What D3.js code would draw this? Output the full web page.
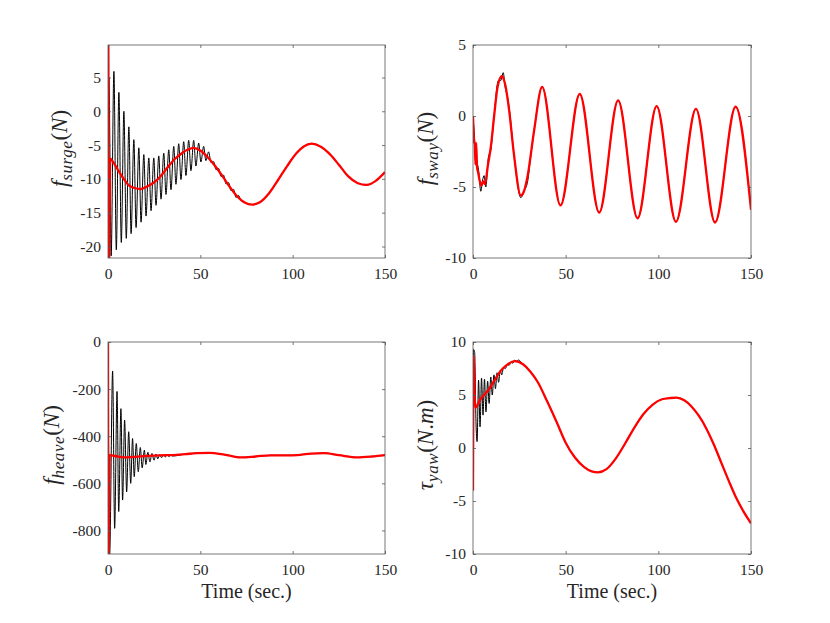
<!DOCTYPE html>
<html><head><meta charset="utf-8">
<script src="https://cdn.jsdelivr.net/npm/d3@7"></script>
<style>body{margin:0;background:#fff}</style>
</head><body><svg id="c" width="830" height="623"></svg>
<script>
// ---------- data (time in sec) ----------
const timeTicks = [0, 50, 100, 150];
const surgeTicks = [-20, -15, -10, -5, 0, 5];
const swayTicks = [-10, -5, 0, 5];
const heaveTicks = [-800, -600, -400, -200, 0];
const yawTicks = [-10, -5, 0, 5, 10];

const surgeRed = [[0,0],[0.15,12],[0.5,-24],[1.2,-7.0],[3,-7.6],[5,-8.5],[8.5,-10.0],[12,-11.1],[17.5,-11.5],[22,-11.0],[25,-10.5],[28.5,-9.6],[32,-8.4],[36,-7.1],[40,-6.2],[43,-5.7],[46.3,-5.4],[50,-5.8],[54,-6.8],[58,-8.1],[62,-9.6],[66,-11.2],[70,-12.6],[74,-13.5],[78,-13.8],[82,-13.5],[87,-12.2],[92,-10.2],[97,-8.1],[102,-6.2],[106,-5.2],[110.3,-4.8],[115,-5.2],[120,-6.3],[125,-7.9],[130,-9.6],[135,-10.6],[140,-10.9],[145,-10.3],[150,-9.0]];
const surgeBlack = [[0,0],[0.5,5],[1.7,-21.4],[3.2,5.9],[4.5,-20.5],[5.9,2.8],[7.2,-19.4],[8.6,0.0],[9.9,-18.8],[11.3,-2.3],[12.5,-18.1],[14.0,-4.2],[15.2,-17.2],[16.7,-5.4],[17.9,-16.4],[19.4,-6.4],[20.6,-15.5],[22.1,-6.9],[23.3,-14.7],[24.8,-6.9],[26.0,-13.9],[27.5,-6.6],[28.7,-13.0],[30.2,-6.2],[31.4,-12.3],[32.9,-5.7],[34.1,-11.6],[35.6,-5.2],[36.8,-10.8],[38.3,-4.8],[39.5,-10.1],[41.0,-4.5],[42.2,-9.5],[43.7,-4.3],[44.9,-8.8],[46.4,-4.3],[47.6,-8.1],[49.1,-4.7],[50.3,-7.5],[51.8,-5.2],[53.0,-7.3],[54.5,-6.0],[55.8,-7.6],[57.2,-7.45],[58.5,-8.65],[59.9,-8.45],[61.2,-9.65],[62.6,-9.45],[63.9,-10.75],[65.3,-10.55],[66.6,-11.75],[68,-11.55],[69.3,-12.75],[70.7,-12.45],[72,-13.2]];

const swayRed = [[0,0],[0.6,-1.8],[1.0,-2.0],[1.3,-3.4],[1.7,-1.9],[2.2,-3.6],[2.8,-4.0],[3.5,-4.5],[4.5,-4.9],[5.5,-4.6],[6.5,-4.8],[8,-3.5],[9.6,-2.2],[11.4,0],[13.2,2.0],[15.5,2.8],[17.4,2.2],[19.6,0.3],[22,-2.6],[25.8,-5.6],[27.5,-5.3],[29.5,-4.2],[33,-1.0],[37.3,2.05],[47.2,-6.3],[57.6,1.55],[68.1,-6.8],[78.3,1.1],[88.8,-7.2],[99.1,0.7],[109.5,-7.45],[120.3,0.5],[130.6,-7.5],[141.7,0.65],[150,-6.6]];
const swayBlack = [[0,0],[0.8,-1.5],[1.5,-3.0],[2.2,-3.3],[3,-3.8],[4.2,-5.3],[5.2,-4.5],[6,-4.2],[6.9,-5.0],[8.3,-2.9],[9.6,-2.4],[11.4,0],[13.2,2.3],[14.1,2.55],[15,2.5],[16.3,3.05],[17.4,2.0],[18.7,1.3],[19.6,0.5],[22,-2.6],[25.8,-5.75],[27.5,-5.3],[29.5,-4.6],[31,-3.0]];

const heaveRed = [[0,0],[0.3,-950],[0.9,-480],[3,-483],[6,-487],[10,-490],[15,-488],[20,-484],[28,-481],[35,-480],[42,-476],[48,-472],[55,-471],[63,-478],[72,-490],[80,-486],[88,-481],[100,-481],[110,-474],[117,-472],[125,-480],[135,-490],[143,-486],[150,-480]];
const heaveBlack = [[0,0],[0.9,-900],[2.5,-123],[3.6,-791],[4.9,-210],[5.8,-720],[7.0,-283],[7.9,-671],[9.0,-332],[10.1,-636],[11.2,-381],[12.3,-600],[13.3,-410],[14.2,-572],[15.3,-431],[16.4,-551],[17.5,-448],[18.5,-534],[19.7,-459],[20.5,-520],[21.6,-468],[22.7,-509],[23.8,-473],[24.9,-502],[26.0,-476],[26.9,-496],[28.0,-478],[29.0,-491],[30.0,-479],[31.0,-488],[32.0,-480],[33,-486],[34,-481],[35,-484]];

const yawRed = [[0,-4],[0.35,8.7],[1.2,3.8],[4,4.6],[8,5.4],[12,6.5],[15,7.3],[18,7.8],[22.5,8.2],[27,7.9],[31,7.2],[35,6.2],[40,4.4],[45,2.5],[50,0.5],[55,-0.9],[60,-1.8],[64,-2.2],[67.5,-2.3],[72,-2.0],[77,-1.0],[82,0.4],[87,1.9],[92,3.2],[97,4.1],[102,4.6],[106,4.7],[109.8,4.76],[114,4.5],[118,3.9],[122,3.0],[126,1.8],[130,0.3],[134,-1.4],[138,-3.1],[142,-4.7],[146,-6.0],[150,-7.1]];
const yawBlack = [[0,-4],[0.3,9.3],[0.9,9.0],[1.6,2.5],[2.2,0.6],[3.0,6.4],[3.8,2.0],[4.6,6.6],[5.4,3.1],[6.2,6.5],[7.0,3.4],[7.9,6.3],[8.7,4.2],[9.6,6.7],[10.4,5.0],[11.3,6.9],[12.1,5.6],[13.0,7.1],[13.8,6.2],[14.7,7.3],[15.5,6.9],[16.5,7.6],[17.5,7.5],[18.5,7.9],[19.5,7.8],[20.5,8.1],[21.5,8.0],[22.5,8.3],[23.5,8.2],[24.5,8.3]];

// ---------- layout ----------
const svg = d3.select('#c');
const FONT = '"Liberation Serif", "Times New Roman", serif';
const cols = [[108, 385], [473, 751]];
const rows = [[45, 258], [342, 554]];

function withTail(black, red) {
  const last = black[black.length - 1][0];
  return black.concat(red.filter(d => d[0] > last + 0.8));
}

const panels = [
  {c:0, r:0, dom:[-21.7, 9.8], ticks:surgeTicks, black:withTail(surgeBlack, surgeRed), red:surgeRed,
   label:[['f',1,0],['surge',1,1],['(',0,0],['N',1,0],[')',0,0]], lx:67, xlabel:false},
  {c:1, r:0, dom:[-10, 5], ticks:swayTicks, black:withTail(swayBlack, swayRed), red:swayRed,
   label:[['f',1,0],['sway',1,1],['(',0,0],['N',1,0],[')',0,0]], lx:433, xlabel:false},
  {c:0, r:1, dom:[-900, 0], ticks:heaveTicks, black:withTail(heaveBlack, heaveRed), red:heaveRed,
   label:[['f',1,0],['heave',1,1],['(',0,0],['N',1,0],[')',0,0]], lx:59, xlabel:true},
  {c:1, r:1, dom:[-10, 10], ticks:yawTicks, black:withTail(yawBlack, yawRed), red:yawRed,
   label:[['τ',1,0],['yaw',1,1],['(',0,0],['N',1,0],['.',0,0],['m',1,0],[')',0,0]], lx:433, xlabel:true}
];

panels.forEach((p, i) => {
  const [x0, x1] = cols[p.c], [y0, y1] = rows[p.r];
  const x = d3.scaleLinear().domain([0, 150]).range([x0, x1]);
  const y = d3.scaleLinear().domain(p.dom).range([y1, y0]);
  const g = svg.append('g');

  const cid = 'clip' + i;
  svg.append('clipPath').attr('id', cid).append('rect')
    .attr('x', x0).attr('y', y0).attr('width', x1 - x0).attr('height', y1 - y0);

  const line = d3.line().x(d => x(d[0])).y(d => y(d[1])).curve(d3.curveMonotoneX);
  const plot = g.append('g').attr('clip-path', `url(#${cid})`);
  plot.append('path').datum(p.black).attr('d', line)
    .attr('fill', 'none').attr('stroke', '#000').attr('stroke-width', 1);
  plot.append('path').datum(p.red).attr('d', line)
    .attr('fill', 'none').attr('stroke', '#ff0000').attr('stroke-width', 2.3);

  const axColor = '#555';
  const styleAxis = sel => {
    sel.select('.domain').remove();
    sel.selectAll('.tick line').attr('stroke', axColor).attr('stroke-width', 0.8);
    sel.selectAll('.tick text').attr('fill', '#262626').attr('font-family', FONT).attr('font-size', 15.5);
  };
  g.append('g').attr('transform', `translate(0,${y1})`)
    .call(d3.axisBottom(x).tickValues(timeTicks).tickSize(-3).tickPadding(10).tickFormat(d3.format('d')))
    .call(styleAxis);
  g.append('g').attr('transform', `translate(0,${y0})`)
    .call(d3.axisTop(x).tickValues(timeTicks).tickSize(-3).tickFormat(''))
    .call(styleAxis);
  g.append('g').attr('transform', `translate(${x0},0)`)
    .call(d3.axisLeft(y).tickValues(p.ticks).tickSize(-3).tickPadding(7).tickFormat(d => String(d)))
    .call(styleAxis);
  g.append('g').attr('transform', `translate(${x1},0)`)
    .call(d3.axisRight(y).tickValues(p.ticks).tickSize(-3).tickFormat(''))
    .call(styleAxis);
  g.selectAll('.tick text').attr('font-family', FONT).attr('font-size', 15.5);

  g.append('rect').attr('x', x0).attr('y', y0).attr('width', x1 - x0).attr('height', y1 - y0)
    .attr('fill', 'none').attr('stroke', axColor).attr('stroke-width', 0.8);

  // y label (rotated)
  const yl = g.append('text')
    .attr('transform', `translate(${p.lx},${(y0 + y1) / 2 - 3}) rotate(-90)`)
    .attr('text-anchor', 'middle').attr('font-family', FONT).attr('font-size', 23)
    .attr('fill', '#262626');
  let sub = false;
  p.label.forEach(([t, it, s]) => {
    const ts = yl.append('tspan').text(t);
    if (it) ts.attr('font-style', 'italic');
    if (s && !sub) { ts.attr('dy', 5); sub = true; }
    else if (!s && sub) { ts.attr('dy', -5); sub = false; }
    if (s) ts.attr('font-size', 17).attr('letter-spacing', 0.6);
  });

  if (p.xlabel) {
    g.append('text').attr('x', (x0 + x1) / 2).attr('y', 598)
      .attr('text-anchor', 'middle').attr('font-family', FONT).attr('font-size', 20)
      .attr('fill', '#262626').text('Time (sec.)');
  }
});
</script></body></html>
